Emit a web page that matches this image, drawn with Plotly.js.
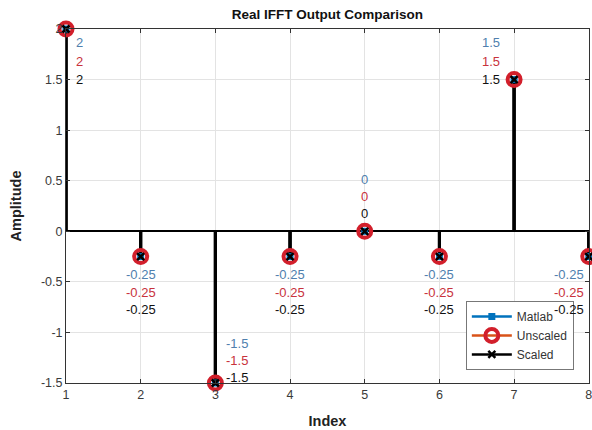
<!DOCTYPE html>
<html>
<head>
<meta charset="utf-8">
<script src="https://cdn.plot.ly/plotly-3.0.1.min.js"></script>
<style>html,body{margin:0;padding:0;background:#fff;}#chart{width:592px;height:430px;}</style>
</head>
<body>
<div id="chart"></div>
<script>
// ---- data ----
var indices = [1, 2, 3, 4, 5, 6, 7, 8];
var matlabVals = [2, -0.25, -1.5, -0.25, 0, -0.25, 1.5, -0.25];
var unscaledVals = [2, -0.25, -1.5, -0.25, 0, -0.25, 1.5, -0.25];
var scaledVals = [2, -0.25, -1.5, -0.25, 0, -0.25, 1.5, -0.25];
var seriesNames = ['Matlab', 'Unscaled', 'Scaled'];
var xTicks = [1, 2, 3, 4, 5, 6, 7, 8];
var yTicks = [-1.5, -1, -0.5, 0, 0.5, 1, 1.5, 2];

// ---- styling ----
var lineColors = ['#0072BD', '#D95319', '#000000'];
var labelColors = ['#4f7fae', '#c8323c', '#111111'];
var FONT = 'Liberation Sans, Arial, sans-serif';

function stemXY(xs, ys) {
  var X = [], Y = [];
  for (var i = 0; i < xs.length; i++) { X.push(xs[i], xs[i], null); Y.push(0, ys[i], null); }
  return {x: X, y: Y};
}

var allVals = [matlabVals, unscaledVals, scaledVals];
var markerStyles = [
  {symbol: 'square', size: 7, color: '#0072BD'},
  {symbol: 'circle-open', size: 13, color: '#d21f2b', line: {width: 4, color: '#d21f2b'}},
  {symbol: 'x-thin', size: 7, color: '#000', line: {width: 2.5, color: '#000'}}
];

var traces = [];
for (var s = 0; s < 3; s++) {
  var st = stemXY(indices, allVals[s]);
  traces.push({x: st.x, y: st.y, mode: 'lines', line: {color: '#000', width: 3},
    showlegend: false, hoverinfo: 'skip', cliponaxis: false});
}
for (var s2 = 0; s2 < 3; s2++) {
  traces.push({x: indices, y: allVals[s2], mode: 'markers', marker: markerStyles[s2],
    showlegend: false, cliponaxis: false});
}
for (var s3 = 0; s3 < 3; s3++) {
  traces.push({x: [null], y: [null], mode: 'lines+markers', name: seriesNames[s3],
    line: {color: lineColors[s3], width: 2.5}, marker: markerStyles[s3]});
}

// label placement per index (pixel offsets), styling only
function placement(i, v) {
  if (i === 0) return {xa: 'left', xs: 8, ys: [-13, -32, -50]};
  if (v > 0) return {xa: 'right', xs: -12, ys: [37, 18, 0]};
  if (v === 0) return {xa: 'center', xs: 0, ys: [52, 35, 18]};
  if (v <= -1) return {xa: 'left', xs: 9, ys: [40, 23, 6]};
  if (i === indices.length - 1) return {xa: 'right', xs: -3, ys: [-18, -36, -53]};
  return {xa: 'center', xs: 0, ys: [-18, -36, -53]};
}

var annotations = [];
for (var i = 0; i < indices.length; i++) {
  var p = placement(i, allVals[2][i]);
  for (var k = 0; k < 3; k++) {
    annotations.push({x: indices[i], y: allVals[k][i], xref: 'x', yref: 'y',
      text: String(allVals[k][i]), showarrow: false, xanchor: p.xa, yanchor: 'middle',
      xshift: p.xs, yshift: p.ys[k], font: {family: FONT, size: 13, color: labelColors[k]}});
  }
}

var layout = {
  width: 592, height: 430,
  margin: {l: 66, r: 3, t: 29, b: 47},
  paper_bgcolor: '#fff', plot_bgcolor: '#fff',
  font: {family: FONT, size: 12, color: '#3a3a3a'},
  title: {text: 'Real IFFT Output Comparison', font: {family: FONT, size: 13.5, color: '#111', weight: 'bold'},
    x: 0.553, xanchor: 'center', y: 0.966, yanchor: 'middle'},
  xaxis: {range: [1, 8.003], tickvals: xTicks, ticktext: xTicks.map(String), showgrid: true, gridcolor: '#e3e3e3',
    zeroline: false, showline: true, linecolor: '#333', linewidth: 1, mirror: 'ticks', ticks: 'inside', ticklen: 4,
    tickcolor: '#333', tickfont: {size: 12.5, color: '#3a3a3a'}, ticklabeloverflow: 'allow',
    title: {text: 'Index', font: {family: FONT, size: 14.5, color: '#222', weight: 'bold'}, standoff: 14}},
  yaxis: {range: [-1.5, 2], tickvals: yTicks, ticktext: yTicks.map(String), showgrid: true, gridcolor: '#e3e3e3',
    zeroline: true, zerolinecolor: '#000', zerolinewidth: 2,
    showline: true, linecolor: '#333', linewidth: 1, mirror: 'ticks', ticks: 'inside', ticklen: 4,
    tickcolor: '#333', tickfont: {size: 12.5, color: '#3a3a3a'},
    title: {text: 'Amplitude', font: {family: FONT, size: 14.5, color: '#222', weight: 'bold'}, standoff: 15}},
  legend: {x: 0.971, xanchor: 'right', y: 0.037, yanchor: 'bottom', bgcolor: '#fff',
    bordercolor: '#777', borderwidth: 1, font: {family: FONT, size: 12, color: '#333'},
    tracegroupgap: 0, itemwidth: 40},
  annotations: annotations,
  showlegend: true
};

Plotly.newPlot('chart', traces, layout, {staticPlot: true});
</script>
</body>
</html>
